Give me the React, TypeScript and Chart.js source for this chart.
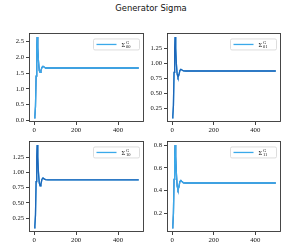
import React, { useEffect, useRef } from 'react';
import { Chart, registerables } from 'chart.js';
Chart.register(...registerables);

const TITLE = 'Generator Sigma';
const times = [0, 3, 6, 9, 12, 14, 17, 20, 24, 28, 32, 37, 42, 47, 54, 65, 80, 499];
const sigma00 = [0.08, 0.12, 0.45, 1.4, 2.3, 2.64, 2.3, 1.9, 1.58, 1.52, 1.58, 1.68, 1.71, 1.69, 1.66, 1.66, 1.66, 1.66];
const sigma01 = [0.09, 0.12, 0.3, 0.85, 1.25, 1.44, 1.25, 1.0, 0.82, 0.77, 0.8, 0.88, 0.9, 0.89, 0.875, 0.873, 0.873, 0.873];
const sigma10 = [0.09, 0.12, 0.3, 0.85, 1.26, 1.45, 1.26, 1.01, 0.83, 0.78, 0.81, 0.89, 0.91, 0.895, 0.882, 0.88, 0.88, 0.88];
const sigma11 = [0.075, 0.09, 0.2, 0.5, 0.7, 0.8, 0.7, 0.56, 0.44, 0.41, 0.43, 0.48, 0.49, 0.48, 0.47, 0.468, 0.468, 0.468];
const xTicks = [0, 200, 400];
const yTicks00 = [0, 0.5, 1.0, 1.5, 2.0, 2.5];
const yTicks01 = [0.25, 0.5, 0.75, 1.0, 1.25];
const yTicks10 = [0.25, 0.5, 0.75, 1.0, 1.25];
const yTicks11 = [0.2, 0.4, 0.6, 0.8];
const legendBase = 'Σ';
const legendSup = 'G';
const legendSubs = ['00', '01', '10', '11'];

const LIGHT = '#3aa9ea';
const DARK = '#1e66b8';
const INK = '#111';
const TICK_FONT = '"Liberation Serif", serif';

type Panel = {
  values: number[];
  yTicks: number[];
  decimals: number;
  sub: string;
  l: number; t: number; r: number; b: number;
  darkOnTop: boolean;
};

const panels: Panel[] = [
  { values: sigma00, yTicks: yTicks00, decimals: 1, sub: legendSubs[0], l: 29, t: 31, r: 144, b: 122, darkOnTop: true },
  { values: sigma01, yTicks: yTicks01, decimals: 2, sub: legendSubs[1], l: 167, t: 31, r: 281, b: 122, darkOnTop: false },
  { values: sigma10, yTicks: yTicks10, decimals: 2, sub: legendSubs[2], l: 29, t: 139, r: 144, b: 232, darkOnTop: false },
  { values: sigma11, yTicks: yTicks11, decimals: 1, sub: legendSubs[3], l: 167, t: 139, r: 281, b: 232, darkOnTop: true },
];

const YW = 29;
const PT = 4;
const PR = 6;
const XH = 16;

function PanelChart({ p }: { p: Panel }) {
  const ref = useRef<HTMLCanvasElement | null>(null);
  const W = p.r - p.l + YW + PR;
  const H = p.b - p.t + PT + XH;
  useEffect(() => {
    if (!ref.current) return;
    const mn = Math.min(...p.values);
    const mx = Math.max(...p.values);
    const pad = (mx - mn) * 0.05;
    const xr = times[times.length - 1] - times[0];
    const pts = times.map((x, i) => ({ x, y: p.values[i] }));
    const light = {
      label: legendBase + legendSup + p.sub,
      data: pts,
      borderColor: LIGHT,
      borderWidth: 1.3,
      pointRadius: 0,
      tension: 0,
      fill: false,
    };
    const dark = {
      label: '',
      data: pts,
      borderColor: DARK,
      borderWidth: 1.3,
      pointRadius: 0,
      tension: 0,
      fill: false,
    };
    const datasets = p.darkOnTop ? [light, dark] : [dark, light];
    const deco = {
      id: 'deco' + p.sub,
      afterDatasetsDraw(chart: any) {
        const { ctx, chartArea } = chart;
        ctx.save();
        ctx.strokeStyle = '#333';
        ctx.lineWidth = 0.9;
        ctx.strokeRect(Math.round(chartArea.left) + 0.5, Math.round(chartArea.top) + 0.5,
          Math.round(chartArea.right - chartArea.left) - 1, Math.round(chartArea.bottom - chartArea.top) - 1);
        const w = 46, h = 11;
        const x = chartArea.right - 4.5 - w;
        const y = chartArea.top + 6;
        ctx.beginPath();
        const rr = 1.5;
        ctx.moveTo(x + rr, y);
        ctx.lineTo(x + w - rr, y);
        ctx.quadraticCurveTo(x + w, y, x + w, y + rr);
        ctx.lineTo(x + w, y + h - rr);
        ctx.quadraticCurveTo(x + w, y + h, x + w - rr, y + h);
        ctx.lineTo(x + rr, y + h);
        ctx.quadraticCurveTo(x, y + h, x, y + h - rr);
        ctx.lineTo(x, y + rr);
        ctx.quadraticCurveTo(x, y, x + rr, y);
        ctx.closePath();
        ctx.fillStyle = 'rgba(255,255,255,0.85)';
        ctx.fill();
        ctx.strokeStyle = '#d4d4d4';
        ctx.lineWidth = 0.8;
        ctx.stroke();
        ctx.beginPath();
        ctx.strokeStyle = LIGHT;
        ctx.lineWidth = 1.3;
        ctx.moveTo(x + 3, y + h / 2);
        ctx.lineTo(x + 23, y + h / 2);
        ctx.stroke();
        ctx.fillStyle = INK;
        ctx.textBaseline = 'alphabetic';
        ctx.textAlign = 'left';
        ctx.font = '6.5px ' + TICK_FONT;
        ctx.fillText(legendBase, x + 28, y + h / 2 + 2.3);
        ctx.font = '4.5px ' + TICK_FONT;
        ctx.fillText(legendSup, x + 32.5, y + h / 2 - 0.5);
        ctx.fillText(p.sub, x + 32.5, y + h / 2 + 3.8);
        ctx.restore();
      },
    };
    const chart = new Chart(ref.current, {
      type: 'line',
      data: { datasets },
      plugins: [deco],
      options: {
        animation: false,
        responsive: false,
        devicePixelRatio: 1,
        layout: { padding: { left: 0, top: PT, right: PR, bottom: 0 } },
        plugins: { legend: { display: false }, tooltip: { enabled: false }, title: { display: false } },
        scales: {
          x: {
            type: 'linear',
            min: times[0] - xr * 0.05,
            max: times[times.length - 1] + xr * 0.05,
            afterBuildTicks: (s: any) => { s.ticks = xTicks.map((v) => ({ value: v })); },
            afterFit: (s: any) => { s.height = XH; },
            grid: { display: true, drawOnChartArea: false, drawTicks: true, tickLength: 3, color: INK, lineWidth: 0.8 },
            border: { display: false },
            ticks: {
              autoSkip: false,
              maxRotation: 0,
              padding: 1,
              color: INK,
              font: { family: TICK_FONT, size: 6.8 },
              callback: (v: any) => String(v),
            },
          },
          y: {
            type: 'linear',
            min: mn - pad,
            max: mx + pad,
            afterBuildTicks: (s: any) => { s.ticks = p.yTicks.map((v) => ({ value: v })); },
            afterFit: (s: any) => { s.width = YW; },
            grid: { display: true, drawOnChartArea: false, drawTicks: true, tickLength: 3, color: INK, lineWidth: 0.8 },
            border: { display: false },
            ticks: {
              autoSkip: false,
              padding: 2,
              color: INK,
              font: { family: TICK_FONT, size: 6.6 },
              callback: (v: any) => Number(v).toFixed(p.decimals),
            },
          },
        },
      },
    } as any);
    return () => chart.destroy();
  }, []);
  return (
    <canvas
      ref={ref}
      width={W}
      height={H}
      style={{ position: 'absolute', left: p.l - YW, top: p.t - PT, width: W, height: H }}
    />
  );
}

export default function App() {
  return (
    <div style={{ position: 'absolute', left: 0, top: 0, width: 289, height: 249, background: '#fff', overflow: 'hidden' }}>
      <div
        style={{
          position: 'absolute',
          left: 0,
          top: 2,
          width: 302,
          textAlign: 'center',
          font: '8.4px "DejaVu Sans", sans-serif',
          lineHeight: '12px',
          color: INK,
        }}
      >
        {TITLE}
      </div>
      {panels.map((p) => (
        <PanelChart key={p.sub} p={p} />
      ))}
    </div>
  );
}
